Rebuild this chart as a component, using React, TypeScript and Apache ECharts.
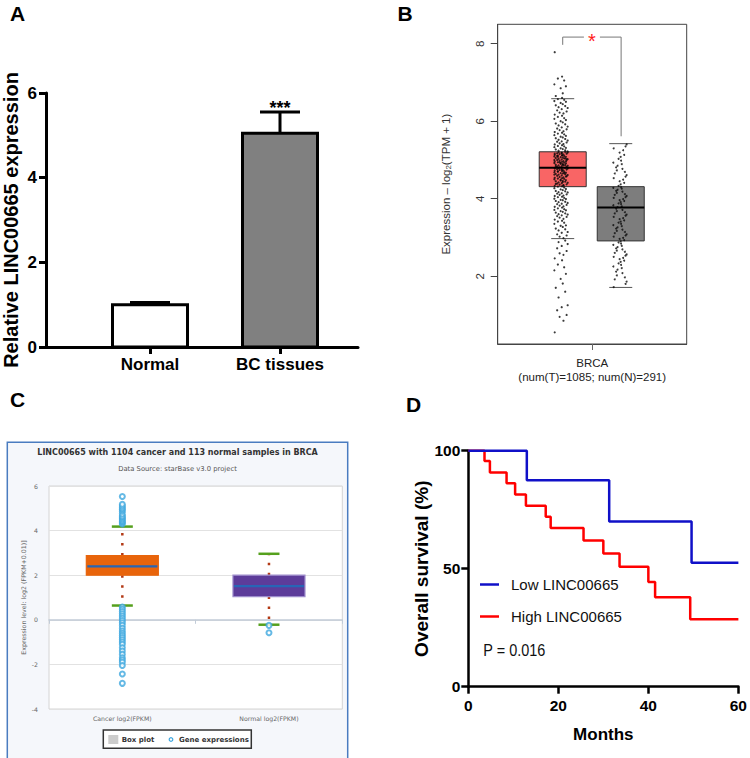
import React, { useEffect, useRef } from "react";
import * as echarts from "echarts";

// ---------- Panel A: qPCR bar chart ----------
const qpcrCategories = ["Normal", "BC tissues"];
const qpcrMeans = [1.0, 5.05];
const qpcrErrors = [0.05, 0.5];
const qpcrSignificance = ["", "***"];

// ---------- Panel B: GEPIA box plot ----------
const gepiaCategory = "BRCA";
const gepiaCounts = "(num(T)=1085; num(N)=291)";
const gepiaTicks = [2, 4, 6, 8];
// min, Q1, median, Q3, max
const gepiaTumorBox = [2.97, 4.31, 4.8, 5.21, 6.58];
const gepiaNormalBox = [1.71, 2.91, 3.77, 4.31, 5.42];
const gepiaTumorPoints = [
  0.55, 0.85, 0.95, 1.0, 1.12, 1.2, 1.25, 1.45, 1.6, 1.7, 1.81, 1.93, 2.06, 2.15, 2.23, 2.3, 2.41, 2.46, 2.55, 2.59, 2.65, 2.72, 2.78, 2.83, 2.88, 2.92,
  6.65, 6.72, 6.85, 6.9, 6.95, 7.05, 7.1, 7.15, 7.78,
  2.98, 3.02, 3.05, 3.08, 3.12, 3.14, 3.18, 3.21, 3.23, 3.27, 3.3, 3.31, 3.35, 3.38, 3.41, 3.43, 3.46, 3.48, 3.51, 3.53, 3.55, 3.57, 3.59, 3.6, 3.62,
  3.64, 3.66, 3.68, 3.7, 3.71, 3.73, 3.75, 3.77, 3.79, 3.8, 3.82, 3.84, 3.86, 3.87, 3.89, 3.91, 3.92, 3.94, 3.96, 3.97, 3.99, 4.0, 4.02, 4.04, 4.05,
  4.07, 4.08, 4.1, 4.11, 4.13, 4.14, 4.16, 4.17, 4.19, 4.2, 4.22, 4.24, 4.25, 4.27, 4.29,
  4.31, 4.32, 4.33, 4.35, 4.36, 4.37, 4.39, 4.4, 4.41, 4.42, 4.44, 4.45, 4.46, 4.47, 4.48, 4.5, 4.51, 4.52, 4.53, 4.54, 4.55, 4.56, 4.58, 4.59, 4.6,
  4.61, 4.62, 4.63, 4.64, 4.65, 4.66, 4.67, 4.68, 4.69, 4.7, 4.71, 4.72, 4.73, 4.74, 4.75, 4.76, 4.77, 4.78, 4.79, 4.8, 4.38, 4.43, 4.49, 4.57, 4.62,
  4.66, 4.7, 4.74, 4.78, 4.34,
  4.81, 4.82, 4.83, 4.84, 4.85, 4.86, 4.87, 4.88, 4.89, 4.9, 4.91, 4.92, 4.93, 4.94, 4.95, 4.96, 4.97, 4.98, 4.99, 5.0, 5.01, 5.02, 5.03, 5.04, 5.05,
  5.06, 5.07, 5.08, 5.09, 5.1, 5.11, 5.12, 5.13, 5.14, 5.15, 5.16, 5.17, 5.18, 5.19, 5.2, 5.21, 4.84, 4.88, 4.92, 4.96, 5.0, 5.04, 5.08, 5.12, 5.16,
  4.86, 4.94, 5.02, 5.1, 5.18,
  5.22, 5.24, 5.25, 5.27, 5.28, 5.3, 5.31, 5.33, 5.35, 5.36, 5.38, 5.4, 5.41, 5.43, 5.45, 5.47, 5.48, 5.5, 5.52, 5.54, 5.56, 5.58, 5.6, 5.62, 5.64,
  5.66, 5.68, 5.7, 5.72, 5.74, 5.77, 5.79, 5.81, 5.84, 5.86, 5.89, 5.92, 5.94, 5.97, 6.0,
  6.03, 6.06, 6.08, 6.11, 6.14, 6.17, 6.2, 6.22, 6.25, 6.28, 6.31, 6.34, 6.36, 6.39, 6.41, 6.44, 6.47, 6.5, 6.52, 6.55, 6.57, 6.6,
];
const gepiaNormalPoints = [
  1.72, 1.8, 1.86, 1.92, 1.97, 2.02, 2.08, 2.12, 2.17, 2.21, 2.25, 2.29, 2.33, 2.37, 2.4, 2.44, 2.47, 2.5, 2.53, 2.56, 2.6, 2.63, 2.66, 2.69, 2.72,
  2.75, 2.78, 2.81, 2.84, 2.87, 2.9,
  2.93, 2.96, 2.99, 3.02, 3.05, 3.08, 3.11, 3.14, 3.17, 3.2, 3.23, 3.26, 3.29, 3.32, 3.35, 3.38, 3.41, 3.44, 3.47, 3.5, 3.53, 3.56, 3.59, 3.62, 3.65,
  3.68, 3.71, 3.74,
  3.78, 3.8, 3.83, 3.86, 3.88, 3.91, 3.94, 3.96, 3.99, 4.02, 4.04, 4.07, 4.1, 4.12, 4.15, 4.18, 4.2, 4.23, 4.26, 4.28, 4.3,
  4.33, 4.37, 4.41, 4.45, 4.49, 4.53, 4.57, 4.61, 4.65, 4.69, 4.73, 4.77, 4.81, 4.85, 4.89, 4.93, 4.98, 5.03, 5.08, 5.13, 5.19, 5.25, 5.3, 5.35, 5.4,
];
const gepiaJitter = [-0.9, 0.35, -0.2, 0.8, -0.55, 0.1, 0.95, -0.35, 0.6, -0.75, 0.25, -0.05, 0.7, -0.95, 0.45, -0.45, 0.15];
const gepiaSignificance = "*";

// ---------- Panel C: starBase box plot ----------
const starbaseTitle = "LINC00665 with 1104 cancer and 113 normal samples in BRCA";
const starbaseSubtitle = "Data Source: starBase v3.0 project";
const starbaseCategories = ["Cancer log2(FPKM)", "Normal log2(FPKM)"];
// min, Q1, median, Q3, max
const starbaseCancerBox = [0.64, 2.0, 2.4, 2.88, 4.18];
const starbaseNormalBox = [-0.22, 1.04, 1.51, 2.0, 2.96];
const starbaseCancerOutliers = [
  4.3, 4.35, 4.41, 4.47, 4.53, 4.6, 4.65, 4.75, 4.87, 4.95, 5.02, 5.1, 5.18, 5.53,
  0.57, 0.47, 0.37, 0.27, 0.17, 0.07, -0.03, -0.13, -0.25, -0.38, -0.5, -0.6, -0.7, -0.8, -0.9, -1.0, -1.1,
  -1.25, -1.4, -1.55, -1.7, -1.8, -1.9, -2.05, -2.43, -2.85,
];
const starbaseNormalOutliers = [-0.25, -0.58];

// ---------- Panel D: Kaplan-Meier ----------
const kmLowName = "Low LINC00665";
const kmHighName = "High LINC00665";
const kmPValue = "P = 0.016";
const kmLow = [
  [0, 100], [13, 87.5], [31.3, 70], [49.6, 52.5], [60, 52.5],
];
const kmHigh = [
  [0, 100], [3.6, 95.6], [4.8, 90.8], [8.5, 86.2], [10.4, 81.4], [12.8, 76.7], [17.2, 72], [18.3, 67.2],
  [25.6, 61.9], [30, 56.4], [33.6, 50.8], [40, 44.4], [41.5, 37.9], [49.3, 28.6], [60, 28.6],
];

const FONT_ARIAL = "'Liberation Sans', Arial, Helvetica, sans-serif";
const FONT_DEJAVU = "'DejaVu Sans', Verdana, sans-serif";

function txt(x: number, y: number, text: string, extra: any, elExtra: any = {}) {
  return {
    type: "text",
    x,
    y,
    ...elExtra,
    style: {
      text,
      fill: "#000",
      fontFamily: FONT_ARIAL,
      align: "left",
      textAlign: "left",
      verticalAlign: "middle",
      textVerticalAlign: "middle",
      ...extra,
    },
  };
}

export default function App() {
  const ref = useRef<HTMLDivElement>(null);

  useEffect(() => {
    if (!ref.current) return;
    const chart = echarts.init(ref.current, undefined, { renderer: "svg" });

    const tumorX = 0.335;
    const normalX = 0.647;
    const jw = 0.037;

    const option: any = {
      animation: false,
      backgroundColor: "#fff",
      grid: [
        { left: 43, top: 93, width: 315, height: 254, show: false },
        { left: 497.7, top: 24.3, width: 189, height: 319.7, show: true, borderColor: "#444", borderWidth: 1, backgroundColor: "transparent" },
        { left: 49, top: 486, width: 293.3, height: 223, show: true, borderColor: "#d4d4d4", borderWidth: 1, backgroundColor: "#ffffff" },
        { left: 468.3, top: 450.7, width: 274.4, height: 236, show: false },
      ],
      xAxis: [
        {
          gridIndex: 0, type: "value", min: 0.2, max: 2.6,
          splitLine: { show: false },
          axisLine: { show: true, lineStyle: { color: "#000", width: 3 } },
          axisTick: { show: true, customValues: [1, 2], length: 7, lineStyle: { color: "#000", width: 3 } },
          axisLabel: {
            customValues: [1, 2],
            formatter: (v: number) => qpcrCategories[Math.round(v) - 1] ?? "",
            fontSize: 17, fontWeight: "bold", color: "#000", fontFamily: FONT_ARIAL, margin: 9,
          },
        },
        {
          gridIndex: 1, type: "value", min: 0, max: 1,
          splitLine: { show: false },
          axisLine: { show: true, lineStyle: { color: "#444", width: 1 } },
          axisTick: { show: true, customValues: [0.5], length: 6, lineStyle: { color: "#666" } },
          axisLabel: {
            customValues: [0.5],
            formatter: () => gepiaCategory + "\n" + gepiaCounts,
            fontSize: 11.5, color: "#222", fontFamily: FONT_ARIAL, lineHeight: 14, margin: 12,
          },
        },
        {
          gridIndex: 2, type: "category", data: starbaseCategories,
          axisLine: { show: true, lineStyle: { color: "#c2ccd8", width: 1.5 } },
          axisTick: { show: true, length: 4, lineStyle: { color: "#c2ccd8" } },
          axisLabel: { fontSize: 6.2, color: "#666", fontFamily: FONT_DEJAVU, margin: 6 },
          splitLine: { show: false },
        },
        {
          gridIndex: 3, type: "value", min: 0, max: 60, interval: 20,
          splitLine: { show: false },
          axisLine: { show: true, lineStyle: { color: "#000", width: 2.5 } },
          axisTick: { show: true, length: 7, lineStyle: { color: "#000", width: 2.5 } },
          axisLabel: { fontSize: 15.5, fontWeight: "bold", color: "#000", fontFamily: FONT_ARIAL, margin: 11 },
          name: "Months", nameLocation: "middle", nameGap: 39,
          nameTextStyle: { fontSize: 17, fontWeight: "bold", color: "#000", fontFamily: FONT_ARIAL },
        },
      ],
      yAxis: [
        {
          gridIndex: 0, type: "value", min: 0, max: 6, interval: 2,
          splitLine: { show: false },
          axisLine: { show: true, lineStyle: { color: "#000", width: 3 } },
          axisTick: { show: true, length: 7, lineStyle: { color: "#000", width: 3 } },
          axisLabel: { fontSize: 17, fontWeight: "bold", color: "#000", fontFamily: FONT_ARIAL, margin: 9 },
          name: "Relative LINC00665 expression", nameLocation: "middle", nameGap: 25,
          nameTextStyle: { fontSize: 20, fontWeight: "bold", color: "#000", fontFamily: FONT_ARIAL },
        },
        {
          gridIndex: 1, type: "value", min: 0.25, max: 8.5,
          splitLine: { show: false },
          axisLine: { show: true, lineStyle: { color: "#444", width: 1 } },
          axisTick: { show: true, customValues: gepiaTicks, length: 7, lineStyle: { color: "#444" } },
          axisLabel: { customValues: gepiaTicks, rotate: 90, fontSize: 11.5, color: "#333", fontFamily: FONT_ARIAL, margin: 12 },
          name: "Expression \u2013 log{s|2}(TPM + 1)", nameLocation: "middle", nameGap: 45,
          nameTextStyle: {
            fontSize: 11.5, color: "#333", fontFamily: FONT_ARIAL,
            rich: { s: { fontSize: 8, color: "#333", fontFamily: FONT_ARIAL, padding: [5, 0, 0, 0] } },
          },
        },
        {
          gridIndex: 2, type: "value", min: -4, max: 6, interval: 2,
          axisLine: { show: false },
          axisTick: { show: false },
          axisLabel: { fontSize: 6.2, color: "#666", fontFamily: FONT_DEJAVU, margin: 11 },
          splitLine: { show: true, lineStyle: { color: "#e2e2e2", width: 1 } },
          name: "Expression level: log2 (FPKM+0.01)]", nameLocation: "middle", nameGap: 23,
          nameTextStyle: { fontSize: 6.3, color: "#666", fontFamily: FONT_DEJAVU },
        },
        {
          gridIndex: 3, type: "value", min: 0, max: 100, interval: 50,
          splitLine: { show: false },
          axisLine: { show: true, lineStyle: { color: "#000", width: 2.5 } },
          axisTick: { show: true, length: 7, lineStyle: { color: "#000", width: 2.5 } },
          axisLabel: { fontSize: 15.5, fontWeight: "bold", color: "#000", fontFamily: FONT_ARIAL, margin: 8 },
          name: "Overall survival (%)", nameLocation: "middle", nameGap: 33,
          nameTextStyle: { fontSize: 19, fontWeight: "bold", color: "#000", fontFamily: FONT_ARIAL },
        },
      ],
      legend: [
        {
          data: [kmLowName, kmHighName],
          orient: "vertical", left: 480, top: 577, padding: 0,
          icon: "rect", itemWidth: 19, itemHeight: 2.5, itemGap: 17,
          selectedMode: false,
          textStyle: { fontSize: 15, color: "#111", fontFamily: FONT_ARIAL, padding: [0, 0, 0, 7] },
        },
      ],
      series: [
        // ----- A: bars with error bars -----
        {
          type: "custom", xAxisIndex: 0, yAxisIndex: 0, clip: false,
          data: qpcrMeans.map((m, i) => [i + 1, m, qpcrErrors[i]]),
          renderItem: (params: any, api: any) => {
            const x = api.value(0), y = api.value(1), e = api.value(2);
            const top = api.coord([x, y]);
            const base = api.coord([x, 0]);
            const et = api.coord([x, y + e]);
            const w = 75;
            const idx = params.dataIndex;
            return {
              type: "group",
              children: [
                { type: "line", shape: { x1: top[0], y1: top[1], x2: top[0], y2: et[1] }, style: { stroke: "#000", lineWidth: 3 } },
                { type: "line", shape: { x1: top[0] - 20, y1: et[1], x2: top[0] + 20, y2: et[1] }, style: { stroke: "#000", lineWidth: 3 } },
                { type: "rect", shape: { x: top[0] - w / 2, y: top[1], width: w, height: base[1] - top[1] }, style: { fill: idx === 0 ? "#ffffff" : "#808080", stroke: "#000", lineWidth: 3 } },
                {
                  type: "text", x: top[0], y: et[1] - 4,
                  style: { text: qpcrSignificance[idx], fill: "#000", fontSize: 18, fontWeight: "bold", fontFamily: FONT_ARIAL, align: "center", textAlign: "center", verticalAlign: "middle", textVerticalAlign: "middle" },
                },
              ],
            };
          },
        },
        // ----- B: boxes -----
        {
          type: "custom", xAxisIndex: 1, yAxisIndex: 1, clip: false, z: 1,
          data: [[0.344, ...gepiaTumorBox], [0.651, ...gepiaNormalBox]],
          renderItem: (params: any, api: any) => {
            const xc = api.value(0);
            const c = (v: number) => api.coord([xc, v]);
            const pmin = c(api.value(1)), pq1 = c(api.value(2)), pq3 = c(api.value(4)), pmax = c(api.value(5));
            const w = 47, cw = 23;
            const fill = params.dataIndex === 0 ? "#f96565" : "#7d7d7d";
            return {
              type: "group",
              children: [
                { type: "line", shape: { x1: pmin[0] - cw / 2, y1: pmin[1], x2: pmin[0] + cw / 2, y2: pmin[1] }, style: { stroke: "#555", lineWidth: 1 } },
                { type: "line", shape: { x1: pmax[0] - cw / 2, y1: pmax[1], x2: pmax[0] + cw / 2, y2: pmax[1] }, style: { stroke: "#555", lineWidth: 1 } },
                { type: "rect", shape: { x: pq3[0] - w / 2, y: pq3[1], width: w, height: pq1[1] - pq3[1] }, style: { fill, stroke: "#333", lineWidth: 1 } },
              ],
            };
          },
        },
        {
          type: "scatter", xAxisIndex: 1, yAxisIndex: 1, z: 3,
          symbol: "circle", symbolSize: 2.2,
          itemStyle: { color: "#0a0a0a" },
          data: gepiaTumorPoints.map((v, i) => [tumorX + gepiaJitter[i % gepiaJitter.length] * jw, v]),
        },
        {
          type: "scatter", xAxisIndex: 1, yAxisIndex: 1, z: 3,
          symbol: "circle", symbolSize: 2.0,
          itemStyle: { color: "#0a0a0a" },
          data: gepiaNormalPoints.map((v, i) => [normalX + gepiaJitter[(i * 3) % gepiaJitter.length] * jw, v]),
        },
        {
          type: "custom", xAxisIndex: 1, yAxisIndex: 1, clip: false, z: 4,
          data: [[0.344, gepiaTumorBox[2]], [0.651, gepiaNormalBox[2]]],
          renderItem: (params: any, api: any) => {
            const p = api.coord([api.value(0), api.value(1)]);
            return { type: "line", shape: { x1: p[0] - 23.5, y1: p[1], x2: p[0] + 23.5, y2: p[1] }, style: { stroke: "#000", lineWidth: 2 } };
          },
        },
        // bracket
        {
          type: "custom", xAxisIndex: 1, yAxisIndex: 1, clip: false, z: 4,
          data: [[0.344, 0.653, 8.17, 7.97, 5.61]],
          renderItem: (params: any, api: any) => {
            const xl = api.value(0), xr = api.value(1), yt = api.value(2), ylb = api.value(3), yrb = api.value(4);
            const a = api.coord([xl, ylb]), b = api.coord([xl, yt]), c2 = api.coord([xr, yt]), d = api.coord([xr, yrb]);
            const mid = (b[0] + c2[0]) / 2;
            return {
              type: "group",
              children: [
                { type: "polyline", shape: { points: [a, b, [mid - 8, b[1]]] }, style: { stroke: "#777", lineWidth: 1, fill: "none" } },
                { type: "polyline", shape: { points: [[mid + 8, c2[1]], c2, d] }, style: { stroke: "#777", lineWidth: 1, fill: "none" } },
                {
                  type: "text", x: mid, y: b[1] + 4,
                  style: { text: gepiaSignificance, fill: "#ff1a1a", fontSize: 20, fontFamily: FONT_ARIAL, align: "center", textAlign: "center", verticalAlign: "middle", textVerticalAlign: "middle" },
                },
              ],
            };
          },
        },
        // ----- C: starBase boxes -----
        {
          type: "custom", name: "Box plot", xAxisIndex: 2, yAxisIndex: 2, clip: false, z: 2,
          itemStyle: { color: "#cccccc" },
          data: [[0, ...starbaseCancerBox], [1, ...starbaseNormalBox]],
          renderItem: (params: any, api: any) => {
            const xi = api.value(0);
            const c = (v: number) => api.coord([xi, v]);
            const pmin = c(api.value(1)), pq1 = c(api.value(2)), pmed = c(api.value(3)), pq3 = c(api.value(4)), pmax = c(api.value(5));
            const x = pmed[0];
            const w = 72, cw = 21;
            const isCancer = params.dataIndex === 0;
            const dot = { stroke: "#b33a16", lineWidth: 2.5, lineDash: [2.5, 7.5] };
            return {
              type: "group",
              children: [
                { type: "line", shape: { x1: x, y1: pq3[1], x2: x, y2: pmax[1] }, style: dot },
                { type: "line", shape: { x1: x, y1: pq1[1], x2: x, y2: pmin[1] }, style: dot },
                {
                  type: "rect", shape: { x: x - w / 2, y: pq3[1], width: w, height: pq1[1] - pq3[1] },
                  style: { fill: isCancer ? "#e8640b" : "#5d3c9a", stroke: isCancer ? "#e8640b" : "#9d8ccc", lineWidth: 1.2 },
                },
                { type: "line", shape: { x1: x - w / 2 + 1, y1: pmed[1], x2: x + w / 2 - 1, y2: pmed[1] }, style: { stroke: "#2766b6", lineWidth: 2.2 } },
                { type: "line", shape: { x1: x - cw / 2, y1: pmax[1], x2: x + cw / 2, y2: pmax[1] }, style: { stroke: "#55a01d", lineWidth: 2.5 } },
                { type: "line", shape: { x1: x - cw / 2, y1: pmin[1], x2: x + cw / 2, y2: pmin[1] }, style: { stroke: "#55a01d", lineWidth: 2.5 } },
              ],
            };
          },
        },
        {
          type: "scatter", name: "Gene expressions", xAxisIndex: 2, yAxisIndex: 2, z: 3,
          symbol: "emptyCircle", symbolSize: 5,
          itemStyle: { color: "#3fa7df", borderWidth: 1.2 },
          data: [
            ...starbaseCancerOutliers.map((v) => [0, v]),
            ...starbaseNormalOutliers.map((v) => [1, v]),
          ],
        },
        // ----- D: Kaplan-Meier -----
        {
          type: "line", name: kmHighName, xAxisIndex: 3, yAxisIndex: 3, step: "end", clip: false,
          symbol: "none", data: kmHigh, color: "#ff0000",
          lineStyle: { color: "#ff0000", width: 2.5 }, itemStyle: { color: "#ff0000" },
        },
        {
          type: "line", name: kmLowName, xAxisIndex: 3, yAxisIndex: 3, step: "end", clip: false,
          symbol: "none", data: kmLow, color: "#1010c8",
          lineStyle: { color: "#1010c8", width: 2.5 }, itemStyle: { color: "#1010c8" },
        },
      ],
      graphic: [
        { type: "rect", z: -10, shape: { x: 7.3, y: 442.3, width: 340.4, height: 330 }, style: { fill: "#f5f7fb", stroke: "#4a7cc0", lineWidth: 1.5 } },
        txt(10, 13.5, "A", { fontSize: 21, fontWeight: "bold" }),
        txt(397.5, 13, "B", { fontSize: 21, fontWeight: "bold" }),
        txt(10, 399, "C", { fontSize: 21, fontWeight: "bold" }),
        txt(406, 404, "D", { fontSize: 21, fontWeight: "bold" }),
        txt(177.5, 452.5, starbaseTitle, { fontSize: 8, fontWeight: "bold", fill: "#333", fontFamily: FONT_DEJAVU, align: "center", textAlign: "center" }),
        txt(177.5, 468.5, starbaseSubtitle, { fontSize: 6.8, fill: "#555", fontFamily: FONT_DEJAVU, align: "center", textAlign: "center" }),
        { type: "rect", shape: { x: 103.3, y: 730, width: 148, height: 18.3 }, style: { fill: "#ffffff", stroke: "#333", lineWidth: 1.5 } },
        { type: "rect", shape: { x: 108.3, y: 735, width: 10, height: 9 }, style: { fill: "#cccccc" } },
        txt(121.7, 739.5, "Box plot", { fontSize: 7, fontWeight: "bold", fill: "#333", fontFamily: FONT_DEJAVU }),
        { type: "circle", shape: { cx: 171, cy: 739.5, r: 1.8 }, style: { fill: "none", stroke: "#3fa7df", lineWidth: 1.2 } },
        txt(179, 739.5, "Gene expressions", { fontSize: 7, fontWeight: "bold", fill: "#333", fontFamily: FONT_DEJAVU }),
        txt(483.3, 650, kmPValue, { fontSize: 17, fill: "#111", fontFamily: FONT_ARIAL }, { scaleX: 0.85 }),
      ],
    };

    chart.setOption(option);
    return () => chart.dispose();
  }, []);

  return (
    <div
      ref={ref}
      style={{ position: "absolute", left: 0, top: 0, width: 750, height: 758, background: "#fff" }}
    />
  );
}
